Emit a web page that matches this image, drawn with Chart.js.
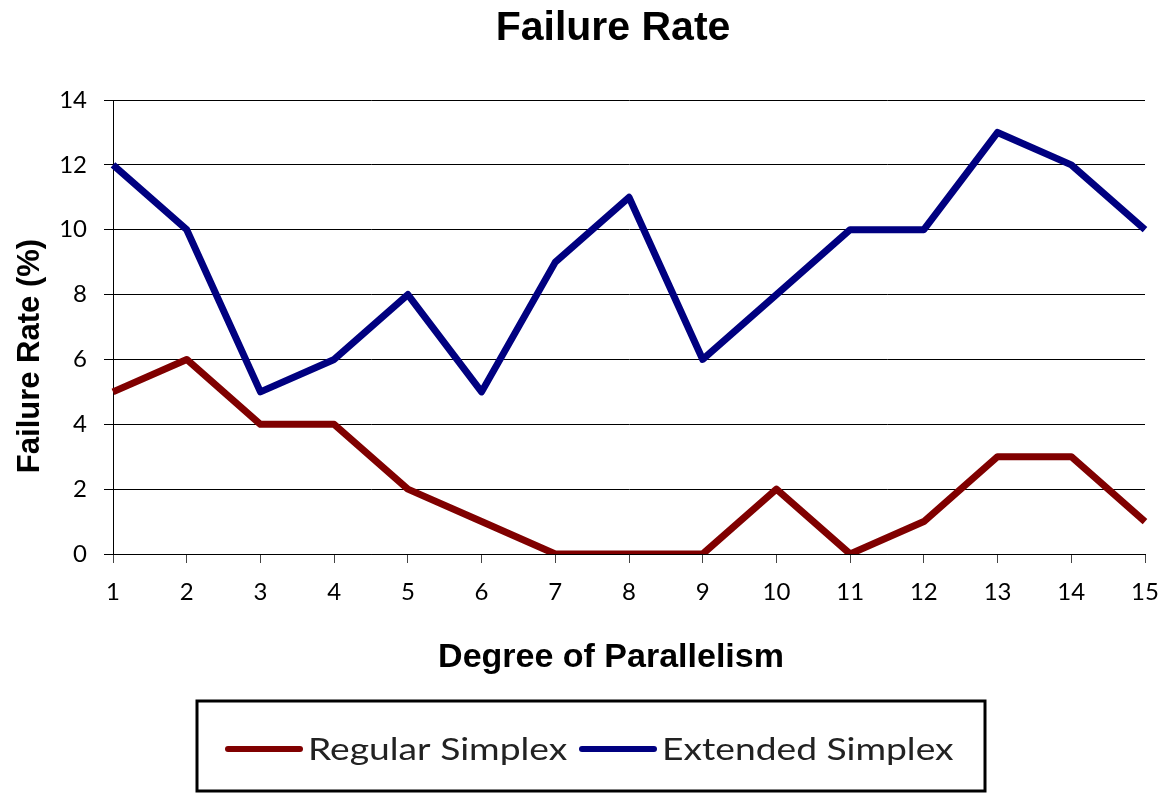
<!DOCTYPE html>
<html>
<head>
<meta charset="utf-8">
<script src="https://cdn.jsdelivr.net/npm/chart.js@4.4.1/dist/chart.umd.min.js"></script>
<style>
  html, body { margin: 0; padding: 0; background: #fff; }
  #wrap { width: 1159px; height: 794px; }
</style>
</head>
<body>
<div id="wrap"><canvas id="myChart"></canvas></div>
<script>
const labels = ['1','2','3','4','5','6','7','8','9','10','11','12','13','14','15'];
const regular = [5, 6, 4, 4, 2, 1, 0, 0, 0, 2, 0, 1, 3, 3, 1];
const extended = [12, 10, 5, 6, 8, 5, 9, 11, 6, 8, 10, 10, 13, 12, 10];
const yTicks = [0, 2, 4, 6, 8, 10, 12, 14];

const chartTitle = 'Failure Rate';
const xTitle = 'Degree of Parallelism';
const yTitle = 'Failure Rate (%)';

const red = '#800000';
const blue = '#000080';

// legend item start x, Excel puts them unevenly
const legendX = [228, 582];

// titles + boxed legend drawn by hand, Excel style
const decor = {
    id: 'decor',
    afterDraw(chart) {
        const ctx = chart.ctx;
        ctx.save();
        ctx.fillStyle = '#000';
        ctx.textAlign = 'center';
        ctx.textBaseline = 'alphabetic';

        ctx.font = 'bold 41px "Liberation Sans", Arial, sans-serif';
        ctx.fillText(chartTitle, 613, 40);

        ctx.font = 'bold 34px "Liberation Sans", Arial, sans-serif';
        ctx.fillText(xTitle, 611, 667);

        ctx.save();
        ctx.translate(39, 356);
        ctx.rotate(-Math.PI / 2);
        ctx.font = 'bold 31px "Liberation Sans", Arial, sans-serif';
        ctx.fillText(yTitle, 0, 0);
        ctx.restore();

        // legend box
        ctx.strokeStyle = '#000';
        ctx.lineWidth = 3;
        ctx.strokeRect(197, 701, 788, 90);

        ctx.font = '31px Lato, "Noto Sans", sans-serif';
        ctx.textAlign = 'left';
        const stretch = 1.2;
        chart.data.datasets.forEach((ds, i) => {
            const x = legendX[i];
            ctx.strokeStyle = ds.borderColor;
            ctx.lineWidth = 6;
            ctx.lineCap = 'round';
            ctx.beginPath();
            ctx.moveTo(x, 749);
            ctx.lineTo(x + 72, 749);
            ctx.stroke();
            ctx.save();
            ctx.translate(x + 80, 760);
            ctx.scale(stretch, 1);
            ctx.fillStyle = '#222';
            ctx.fillText(ds.label, 0, 0);
            ctx.restore();
        });
        ctx.restore();
    }
};

const data = {
    labels: labels,
    datasets: [{
        label: 'Regular Simplex',
        data: regular,
        borderColor: red,
        backgroundColor: red,
        borderWidth: 7,
        pointRadius: 0,
        borderJoinStyle: 'round',
        tension: 0
    }, {
        label: 'Extended Simplex',
        data: extended,
        borderColor: blue,
        backgroundColor: blue,
        borderWidth: 7,
        pointRadius: 0,
        borderJoinStyle: 'round',
        tension: 0
    }]
};

const config = {
    type: 'line',
    data: data,
    plugins: [decor],
    options: {
        responsive: true,
        maintainAspectRatio: false,
        animation: false,
        layout: {
            padding: { top: 100, right: 0, bottom: 0, left: 0 }
        },
        plugins: {
            legend: { display: false },
            title: { display: false },
            tooltip: { enabled: false }
        },
        scales: {
            x: {
                offset: false,
                afterFit: (scale) => {
                    scale.height = 240;
                    // last label may hang over the edge a bit
                    scale.paddingLeft = 0;
                    scale.paddingRight = 14;
                },
                grid: {
                    drawOnChartArea: false,
                    drawTicks: true,
                    tickLength: 9,
                    color: '#444'
                },
                border: { color: '#000', width: 1 },
                ticks: {
                    color: '#000',
                    font: { family: 'Lato', size: 24 },
                    padding: 15,
                    maxRotation: 0,
                    autoSkip: false
                }
            },
            y: {
                min: 0,
                max: 14,
                afterFit: (scale) => { scale.width = 113; },
                afterBuildTicks: (scale) => { scale.ticks = yTicks.map(v => ({ value: v })); },
                grid: {
                    color: '#000',
                    lineWidth: 1,
                    drawTicks: true,
                    tickLength: 9
                },
                border: { color: '#000', width: 1 },
                ticks: {
                    color: '#000',
                    font: { family: 'Lato', size: 24 },
                    padding: 17
                }
            }
        }
    }
};

const myChart = new Chart(document.getElementById('myChart'), config);
</script>
</body>
</html>
